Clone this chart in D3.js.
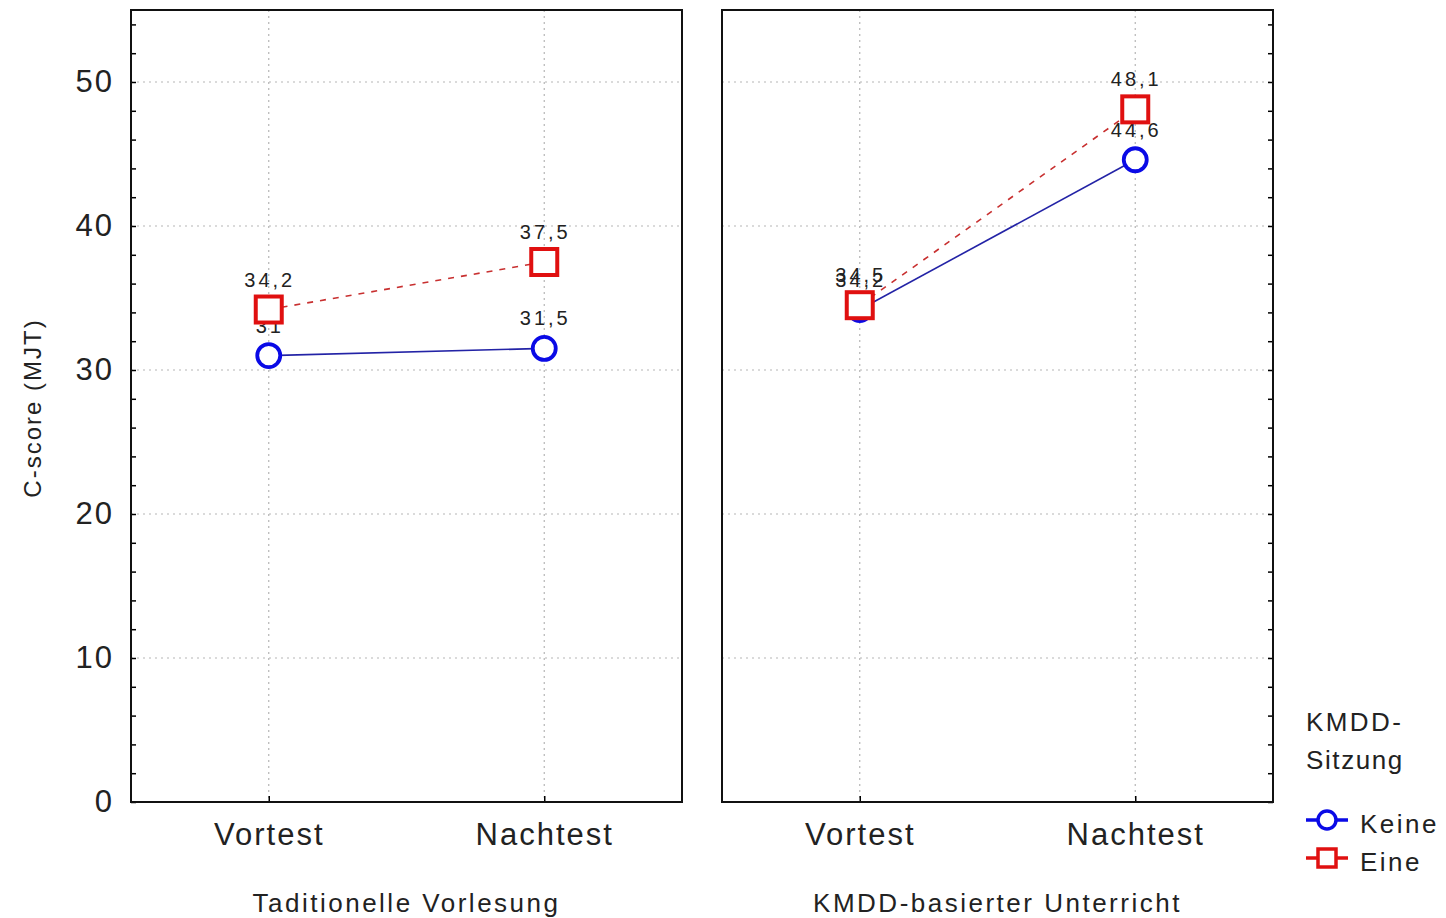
<!DOCTYPE html>
<html>
<head>
<meta charset="utf-8">
<script src="https://cdn.jsdelivr.net/npm/d3@7"></script>
<style>
  html, body { margin: 0; padding: 0; background: #fff; }
  svg { display: block; font-family: Arial, "Liberation Sans", sans-serif; }
</style>
</head>
<body>
<svg id="chart" width="1446" height="918"></svg>
<script>
// Mean C-scores (MJT) per teaching format, test phase and KMDD session group
const phases = ["Vortest", "Nachtest"];
const panels = ["Taditionelle Vorlesung", "KMDD-basierter Unterricht"];
const seriesNames = ["Keine", "Eine"];
const keineValues = [[31.0, 31.5], [34.2, 44.6]];
const eineValues = [[34.2, 37.5], [34.5, 48.1]];
const yTicks = [0, 10, 20, 30, 40, 50];
const yMinorTicks = d3.range(0, 56, 2);

const svg = d3.select("#chart");
const plotTop = 10, plotBottom = 802, panelW = 551;
const panelLeft = [131, 722];

const y = d3.scaleLinear().domain([0, 55]).range([plotBottom, plotTop]);
const x = d3.scalePoint().domain(phases).range([0, panelW]).padding(0.5);
const panelScale = d3.scaleOrdinal().domain(panels).range(panelLeft);

const de = d3.formatLocale({ decimal: ",", thousands: ".", grouping: [3], currency: ["", "€"] });
const fmt = de.format("~g");

const styles = {
  Keine: { marker: "#0a0ae6", line: "#2323a6", dash: null },
  Eine: { marker: "#e01010", line: "#c83030", dash: "6,7" }
};

const textColor = "#222";

panels.forEach((panel, pi) => {
  const px = panelScale(panel);
  const g = svg.append("g").attr("transform", `translate(${px},0)`);

  // dotted grid
  g.append("g").selectAll("line").data(yTicks.filter(d => d > 0)).join("line")
    .attr("x1", 0).attr("x2", panelW)
    .attr("y1", d => y(d)).attr("y2", d => y(d))
    .attr("stroke", "#b5b5b5").attr("stroke-width", 1.2).attr("stroke-dasharray", "2,4");
  g.append("g").selectAll("line").data(phases).join("line")
    .attr("x1", d => x(d)).attr("x2", d => x(d))
    .attr("y1", plotTop).attr("y2", plotBottom)
    .attr("stroke", "#b5b5b5").attr("stroke-width", 1.2).attr("stroke-dasharray", "2,4");

  // inner minor ticks
  if (pi === 0) {
    const ax = g.append("g").call(d3.axisRight(y).tickValues(yMinorTicks).tickSize(5).tickFormat(""));
    ax.select(".domain").remove();
    ax.selectAll("line").attr("stroke", "#000").attr("stroke-width", 1.5);
  } else {
    const ax = g.append("g").attr("transform", `translate(${panelW},0)`)
      .call(d3.axisLeft(y).tickValues(yMinorTicks).tickSize(5).tickFormat(""));
    ax.select(".domain").remove();
    ax.selectAll("line").attr("stroke", "#000").attr("stroke-width", 1.5);
  }
  const bx = g.append("g").attr("transform", `translate(0,${plotBottom})`)
    .call(d3.axisTop(x).tickSize(6).tickFormat(""));
  bx.select(".domain").remove();
  bx.selectAll("line").attr("stroke", "#000").attr("stroke-width", 1.5);

  // category labels
  const xl = g.append("g").attr("transform", `translate(0,${plotBottom})`)
    .call(d3.axisBottom(x).tickSize(0).tickPadding(21));
  xl.select(".domain").remove();
  xl.selectAll("text").attr("font-size", 31).attr("fill", textColor)
    .attr("letter-spacing", 2).attr("font-family", "Arial, 'Liberation Sans', sans-serif");

  // panel title
  g.append("text").attr("x", panelW / 2).attr("y", 912)
    .attr("text-anchor", "middle").attr("font-size", 26).attr("letter-spacing", 2.5)
    .attr("fill", textColor).text(panel);

  const series = [
    { name: "Keine", values: keineValues[pi] },
    { name: "Eine", values: eineValues[pi] }
  ];

  const line = d3.line().x((d, i) => x(phases[i])).y(d => y(d));

  // connecting lines
  series.forEach(s => {
    g.append("path").datum(s.values).attr("d", line)
      .attr("fill", "none").attr("stroke", styles[s.name].line)
      .attr("stroke-width", 1.6)
      .attr("stroke-dasharray", styles[s.name].dash);
  });

  // value labels
  series.forEach(s => {
    g.append("g").selectAll("text").data(s.values).join("text")
      .attr("x", (d, i) => x(phases[i]) + 1)
      .attr("y", d => y(d) - 23)
      .attr("text-anchor", "middle").attr("font-size", 20).attr("letter-spacing", 3)
      .attr("fill", textColor).text(d => fmt(d));
  });

  // markers
  series.forEach(s => {
    const mg = g.append("g");
    if (s.name === "Keine") {
      mg.selectAll("circle").data(s.values).join("circle")
        .attr("cx", (d, i) => x(phases[i])).attr("cy", d => y(d)).attr("r", 11.5)
        .attr("fill", "#fff").attr("stroke", styles.Keine.marker).attr("stroke-width", 3.8);
    } else {
      mg.selectAll("rect").data(s.values).join("rect")
        .attr("x", (d, i) => x(phases[i]) - 13).attr("y", d => y(d) - 13)
        .attr("width", 26).attr("height", 26)
        .attr("fill", "#fff").attr("stroke", styles.Eine.marker).attr("stroke-width", 4);
    }
  });

  // frame
  g.append("rect").attr("x", 0).attr("y", plotTop).attr("width", panelW).attr("height", plotBottom - plotTop)
    .attr("fill", "none").attr("stroke", "#111").attr("stroke-width", 2);
});

// y axis labels
const ya = svg.append("g").attr("transform", `translate(${panelLeft[0]},0)`)
  .call(d3.axisLeft(y).tickValues(yTicks).tickSize(0).tickPadding(17));
ya.select(".domain").remove();
ya.selectAll("text").attr("font-size", 31).attr("fill", textColor)
  .attr("letter-spacing", 2).attr("font-family", "Arial, 'Liberation Sans', sans-serif");

svg.append("text")
  .attr("transform", "translate(41,408) rotate(-90)")
  .attr("text-anchor", "middle").attr("font-size", 24).attr("letter-spacing", 2)
  .attr("fill", textColor).text("C-score (MJT)");

// legend
const lg = svg.append("g").attr("transform", "translate(1306,0)");
lg.append("text").attr("x", 0).attr("y", 731).attr("font-size", 26).attr("letter-spacing", 2.4)
  .attr("fill", textColor).text("KMDD-");
lg.append("text").attr("x", 0).attr("y", 769).attr("font-size", 26).attr("letter-spacing", 1.6)
  .attr("fill", textColor).text("Sitzung");

const legendY = d3.scalePoint().domain(seriesNames).range([820, 858]);
seriesNames.forEach(name => {
  const cy = legendY(name);
  const item = lg.append("g");
  item.append("line").attr("x1", 0).attr("x2", 42).attr("y1", cy).attr("y2", cy)
    .attr("stroke", styles[name].marker).attr("stroke-width", 3.5);
  if (name === "Keine") {
    item.append("circle").attr("cx", 21).attr("cy", cy).attr("r", 9)
      .attr("fill", "#fff").attr("stroke", styles[name].marker).attr("stroke-width", 3.5);
  } else {
    item.append("rect").attr("x", 12).attr("y", cy - 9).attr("width", 18).attr("height", 18)
      .attr("fill", "#fff").attr("stroke", styles[name].marker).attr("stroke-width", 3.5);
  }
  item.append("text").attr("x", 54).attr("y", cy + 13).attr("font-size", 26).attr("letter-spacing", 2.5)
    .attr("fill", textColor).text(name);
});
</script>
</body>
</html>
